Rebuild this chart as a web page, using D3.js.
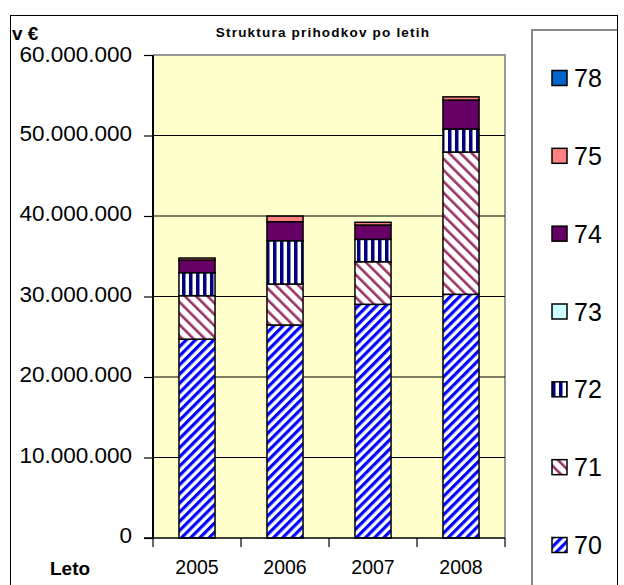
<!DOCTYPE html>
<html><head><meta charset="utf-8">
<script src="https://cdn.jsdelivr.net/npm/d3@7"></script>
<style>body{margin:0;background:#fff}svg{display:block;font-family:"Liberation Sans",Arial,sans-serif}</style>
</head><body>
<svg id="c" width="624" height="585"></svg>
<script>
const years = ["2005","2006","2007","2008"];
const keys = ["70","71","72","73","74","75","78"];
const s70 = [24700000, 26460000, 29030000, 30270000];
const s71 = [5400000, 5090000, 5290000, 17680000];
const s72 = [2860000, 5380000, 2780000, 2850000];
const s73 = [0, 0, 0, 0];
const s74 = [1570000, 2360000, 1780000, 3600000];
const s75 = [250000, 700000, 340000, 400000];
const s78 = [0, 0, 0, 0];
const yTicks = [0, 10000000, 20000000, 30000000, 40000000, 50000000, 60000000];
const title = "Struktura prihodkov po letih";

const series = {"70":s70,"71":s71,"72":s72,"73":s73,"74":s74,"75":s75,"78":s78};
const rows = years.map((y,i)=>{const r={year:y};keys.forEach(k=>r[k]=series[k][i]);return r;});

const svg = d3.select("#c");
const defs = svg.append("defs");
function stripe(id, color, bg, period, sw, rot){
  const p = defs.append("pattern").attr("id",id).attr("patternUnits","userSpaceOnUse")
    .attr("width",period).attr("height",period);
  if(rot!==0) p.attr("patternTransform",`rotate(${rot})`);
  p.append("rect").attr("width",period).attr("height",period).attr("fill",bg);
  p.append("rect").attr("x",0).attr("width",sw).attr("height",period).attr("fill",color);
}
stripe("p70","#0000ff","#fff",6.5,3.2,45);
stripe("p71","#993366","#fff",8,2.6,-45);
stripe("p72","#000080","#fff",7,3.5,0);
const fills = {"70":"url(#p70)","71":"url(#p71)","72":"url(#p72)","73":"#ccffff","74":"#660066","75":"#ff8080","78":"#0066cc"};

const loc = d3.formatLocale({decimal:",",thousands:".",grouping:[3],currency:["","€"]});
const fmt = loc.format(",d");

// frames
svg.append("rect").attr("x",10.5).attr("y",15.5).attr("width",607).attr("height",600)
  .attr("fill","#fff").attr("stroke","#000").attr("stroke-width",1);

const L=153, R=505, T=55, B=538;
const x = d3.scaleBand().domain(years).range([L,R]).paddingInner(0.59).paddingOuter(0.295);
const y = d3.scaleLinear().domain([0,60000000]).range([B,T]);

svg.append("rect").attr("x",L).attr("y",T).attr("width",R-L).attr("height",B-T)
  .attr("fill","#ffffcc").attr("stroke","none");
svg.append("path").attr("d",`M${L},${T}H${R}V${B}`).attr("fill","none").attr("stroke","#999").attr("stroke-width",2);

// gridlines
svg.append("g").selectAll("line").data(yTicks.slice(1,-1)).join("line")
  .attr("x1",L).attr("x2",R).attr("y1",d=>y(d)).attr("y2",d=>y(d))
  .attr("stroke","#000").attr("stroke-width",1.2);

// bars
const stack = d3.stack().keys(keys)(rows);
svg.append("g").selectAll("g").data(stack).join("g")
  .attr("fill",d=>fills[d.key])
  .selectAll("rect").data(d=>d.filter(v=>v[1]-v[0]>0)).join("rect")
  .attr("x",d=>x(d.data.year)).attr("width",x.bandwidth())
  .attr("y",d=>y(d[1])).attr("height",d=>y(d[0])-y(d[1]))
  .attr("stroke","#000").attr("stroke-width",1.5);

// y axis
const ya = svg.append("g").attr("transform",`translate(${L},0)`)
  .call(d3.axisLeft(y).tickValues(yTicks).tickFormat(fmt).tickSize(9).tickPadding(12));
ya.select(".domain").attr("stroke","#000").attr("stroke-width",2).attr("d",`M0,${T}V${B}`);
ya.selectAll(".tick line").attr("stroke","#000").attr("stroke-width",1.2);
ya.selectAll("text").attr("font-size",22.5).attr("fill","#000").attr("dy","0.2em")
  .attr("font-family","Liberation Sans, Arial, sans-serif");
ya.selectAll(".tick").filter(d=>d===60000000).select("text").attr("dy","0.3em");

// x axis
const xa = svg.append("g").attr("transform",`translate(0,${B})`);
xa.append("line").attr("x1",L-9).attr("x2",R).attr("stroke","#000").attr("stroke-width",1.5);
const bounds = [L].concat(years.map(yy=>x(yy)+x.bandwidth()+x.step()*x.paddingInner()/2));
xa.selectAll(".tk").data(bounds).join("line").attr("class","tk")
  .attr("x1",d=>d).attr("x2",d=>d).attr("y1",0).attr("y2",9).attr("stroke","#000").attr("stroke-width",1.2);
xa.selectAll(".yl").data(years).join("text").attr("class","yl")
  .attr("x",d=>x(d)+x.bandwidth()/2).attr("y",36).attr("text-anchor","middle")
  .attr("font-size",19.5).attr("fill","#000").text(d=>d);

svg.append("text").attr("x",50).attr("y",575).attr("font-size",19).attr("font-weight","bold").text("Leto");
svg.append("text").attr("x",12).attr("y",40).attr("font-size",19).attr("font-weight","bold").text("v €");
svg.append("text").attr("x",323).attr("y",37).attr("text-anchor","middle").attr("font-size",13.5)
  .attr("font-weight","bold").attr("letter-spacing",1.2).text(title);

// legend
const lg = svg.append("g");
lg.append("path").attr("d","M532,600V30H617").attr("fill","none").attr("stroke","#888").attr("stroke-width",2);
const legKeys = keys.slice().reverse();
const ly = d3.scalePoint().domain(legKeys).range([78,545]);
const li = lg.selectAll("g").data(legKeys).join("g").attr("transform",d=>`translate(552,${ly(d)})`);
li.append("rect").attr("x",0).attr("y",-7.5).attr("width",15).attr("height",15)
  .attr("fill",d=>fills[d]).attr("stroke","#000").attr("stroke-width",1.5);
li.append("text").attr("x",22).attr("y",9).attr("font-size",25).attr("fill","#000").text(d=>d);
</script>
</body></html>
